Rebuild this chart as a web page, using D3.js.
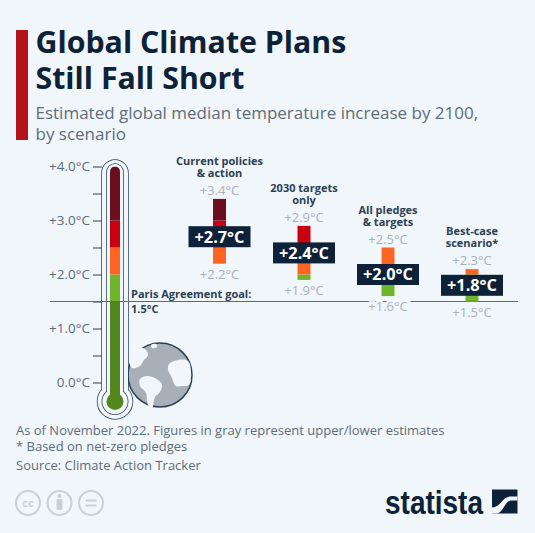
<!DOCTYPE html>
<html>
<head>
<meta charset="utf-8">
<script src="https://cdn.jsdelivr.net/npm/d3@7/dist/d3.min.js"></script>
<style type="text/css">
  body{
    margin: 0px;
    background: #f1f6fa;
  }
  svg{
    display: block;
    font-family: 'Open Sans', sans-serif;
  }
</style>
</head>
<body>
<div id="chart"></div>

<script>

var titleLines = ["Global Climate Plans", "Still Fall Short"];
var subtitleLines = ["Estimated global median temperature increase by 2100,", "by scenario"];
var footLines = ["As of November 2022. Figures in gray represent upper/lower estimates", "* Based on net-zero pledges", "Source: Climate Action Tracker"];

var scenarioNames = [["Current policies", "& action"], ["2030 targets", "only"], ["All pledges", "& targets"], ["Best-case", "scenario*"]];
var medians = [2.7, 2.4, 2.0, 1.8];
var uppers = [3.4, 2.9, 2.5, 2.3];
var lowers = [2.2, 1.9, 1.6, 1.5];
// in the picture the best-case bar stops short of its +2.3 label
var barTops = [3.4, 2.9, 2.5, 2.1];

var axisTicks = [0, 0.5, 1, 1.5, 2, 2.5, 3, 3.5, 4];
var parisGoal = 1.5;

// color bands, bottom to top. first one runs down into the bulb
var bandEdges = [-0.35, 1.5, 2, 2.5, 3, 4];
var bandColors = ["#55861e", "#6fb52c", "#ff6422", "#c8000f", "#6b0f1f"];

// white land on the little globe, relative to its center
var landShapes = [
  [[-31,-20],[-24,-27],[-15,-26],[-12,-20],[-16,-15],[-20,-9],[-28,-7]],
  [[-9,-30],[-4,-31],[-3,-28],[-8,-27]],
  [[-20,4],[-12,1],[-2,5],[2,10],[0,17],[-5,22],[-8,33],[-12,30],[-14,18],[-20,11]],
  [[9,-11],[18,-15],[28,-14],[31,-3],[29,10],[22,11],[16,11],[11,1],[8,-5]]
];

var width = 535, height = 533;
var bg = "#f1f6fa", navy = "#0d2238", outline = "#2c4053", gray = "#5f6c79", lightGray = "#a9b2ba";

var svg = d3.select("#chart").append("svg")
  .attr("width", width)
  .attr("height", height);

var y = d3.scaleLinear().domain([0, 4]).range([382.5, 166.5]);
// the four columns are not quite evenly spaced
var columnX = [219.5, 304, 388, 472];

// header
svg.append("rect").attr("x", 16).attr("y", 30).attr("width", 12).attr("height", 110).attr("fill", "#b5131a");

svg.selectAll(".title").data(titleLines).enter().append("text")
  .attr("x", 35.5)
  .attr("y", function(d,i) { return 53 + i*35.5; })
  .attr("font-size", 30.3)
  .attr("font-weight", 700)
  .attr("fill", navy)
  .text(function(d) { return d; });

svg.selectAll(".subtitle").data(subtitleLines).enter().append("text")
  .attr("x", 35.5)
  .attr("y", function(d,i) { return 119 + i*21; })
  .attr("font-size", 17)
  .attr("fill", gray)
  .text(function(d) { return d; });

// globe
var cx = 160, cy = 375;
var globe = svg.append("g").attr("transform", "translate(" + cx + "," + cy + ")");
globe.append("circle").attr("r", 32).attr("fill", "#a7b0b9").attr("stroke", outline).attr("stroke-width", 1.5);
var landLine = d3.line().curve(d3.curveCatmullRomClosed);
globe.selectAll("path").data(landShapes).enter().append("path")
  .attr("d", landLine)
  .attr("fill", bg);

// axis
var axis = d3.axisLeft(y)
  .tickValues(axisTicks)
  .tickSize(9)
  .tickPadding(3)
  .tickFormat(function(d) {
    if (d % 1 !== 0) return "";
    return (d > 0 ? "+" : "") + d.toFixed(1) + "°C";
  });

var axisG = svg.append("g").attr("transform", "translate(102,0)").call(axis);
axisG.select(".domain").remove();
axisG.selectAll("line").attr("stroke", outline).attr("stroke-width", 1);
axisG.selectAll("text").attr("font-size", 13.5).attr("font-family", "'Open Sans', sans-serif").attr("fill", gray);

// thermometer
var tubeX = 115, bulbY = y(-0.35);

function tubeShape(halfW, top, r) {
  var s = svg.append("g");
  [[outline, outline], [bg, "none"]].forEach(function(c) {
    s.append("rect")
      .attr("x", tubeX-halfW).attr("y", top)
      .attr("width", halfW*2).attr("height", bulbY-top)
      .attr("rx", halfW)
      .attr("fill", c[0]).attr("stroke", c[1]).attr("stroke-width", 1.5);
    s.append("circle")
      .attr("cx", tubeX).attr("cy", bulbY).attr("r", r)
      .attr("fill", c[0]).attr("stroke", c[1]).attr("stroke-width", 1.5);
  });
}
tubeShape(13, 160, 17.5);
tubeShape(8, 164, 12.7);

svg.append("clipPath").attr("id", "tubeClip").append("rect")
  .attr("x", tubeX-5).attr("y", y(4))
  .attr("width", 10).attr("height", bulbY-y(4))
  .attr("rx", 5);

var bands = d3.range(bandColors.length).map(function(i) {
  return {lo: bandEdges[i], hi: bandEdges[i+1], color: bandColors[i]};
});

svg.append("g").attr("clip-path", "url(#tubeClip)")
  .selectAll("rect").data(bands).enter().append("rect")
  .attr("x", tubeX-5)
  .attr("width", 10)
  .attr("y", function(d) { return y(d.hi); })
  .attr("height", function(d) { return y(d.lo)-y(d.hi); })
  .attr("fill", function(d) { return d.color; });

svg.append("circle").attr("cx", tubeX).attr("cy", bulbY).attr("r", 8.5).attr("fill", bandColors[0]);

// paris line
svg.append("line")
  .attr("x1", 50).attr("x2", 518)
  .attr("y1", y(parisGoal)).attr("y2", y(parisGoal))
  .attr("stroke", "#5d6b78").attr("stroke-width", 1);

svg.selectAll(".paris").data(["Paris Agreement goal:", "1.5°C"]).enter().append("text")
  .attr("x", 131)
  .attr("y", function(d,i) { return 297.5 + i*15.5; })
  .attr("font-size", 11)
  .attr("font-weight", 700)
  .attr("fill", outline)
  .text(function(d) { return d; });

// scenarios
function fmt(v) { return "+" + v.toFixed(1) + "°C"; }

var col = svg.selectAll(".scenario").data(medians).enter().append("g")
  .attr("class", "scenario")
  .attr("text-anchor", "middle")
  .attr("transform", function(d,i) { return "translate(" + columnX[i] + ",0)"; });

col.each(function(d,i) {
  var g = d3.select(this);

  var parts = bands.filter(function(b) { return b.hi > lowers[i] && b.lo < barTops[i]; });
  g.selectAll("rect.part").data(parts).enter().append("rect")
    .attr("class", "part")
    .attr("x", -6.5)
    .attr("width", 13)
    .attr("y", function(b) { return y(Math.min(b.hi, barTops[i])); })
    .attr("height", function(b) { return y(Math.max(b.lo, lowers[i])) - y(Math.min(b.hi, barTops[i])); })
    .attr("fill", function(b) { return b.color; });

  g.append("rect")
    .attr("x", -31).attr("y", y(d)-10.5)
    .attr("width", 62).attr("height", 21)
    .attr("fill", navy);

  g.append("text")
    .attr("y", y(d)+5.8)
    .attr("font-size", 16.3)
    .attr("font-weight", 700)
    .attr("fill", "white")
    .text(fmt(d));

  g.append("text")
    .attr("y", y(barTops[i])-4)
    .attr("font-size", 13)
    .attr("fill", lightGray)
    .text(fmt(uppers[i]));

  g.append("text")
    .attr("y", y(lowers[i])+15)
    .attr("font-size", 13)
    .attr("fill", lightGray)
    .attr("stroke", bg)
    .attr("stroke-width", 5)
    .attr("paint-order", "stroke")
    .text(fmt(lowers[i]));

  g.selectAll("text.name").data(scenarioNames[i]).enter().append("text")
    .attr("class", "name")
    .attr("y", function(t,j) { return y(barTops[i]) - 34 + j*12.3; })
    .attr("font-size", 11)
    .attr("font-weight", 700)
    .attr("fill", outline)
    .text(function(t) { return t; });
});

// footer
svg.selectAll(".foot").data(footLines).enter().append("text")
  .attr("x", 16)
  .attr("y", function(d,i) { return [435, 451, 470][i]; })
  .attr("font-size", 13)
  .attr("fill", gray)
  .text(function(d) { return d; });

// license icons
var icons = svg.append("g").attr("fill", "none").attr("stroke", "#c9d0d6").attr("stroke-width", 2);
[28, 59.5, 91].forEach(function(ix) {
  icons.append("circle").attr("cx", ix).attr("cy", 503).attr("r", 12);
});
svg.append("text").attr("x", 28).attr("y", 507).attr("text-anchor", "middle")
  .attr("font-size", 11).attr("font-weight", 700).attr("fill", "#c9d0d6").text("cc");
svg.append("circle").attr("cx", 59.5).attr("cy", 496).attr("r", 2).attr("fill", "#c9d0d6");
svg.append("rect").attr("x", 56.5).attr("y", 499).attr("width", 6).attr("height", 11).attr("rx", 1.5).attr("fill", "#c9d0d6");
svg.append("rect").attr("x", 85.5).attr("y", 499.5).attr("width", 11).attr("height", 2).attr("fill", "#c9d0d6");
svg.append("rect").attr("x", 85.5).attr("y", 504.5).attr("width", 11).attr("height", 2).attr("fill", "#c9d0d6");

// statista logo
svg.append("text")
  .attr("x", 385).attr("y", 514)
  .attr("font-family", "'Liberation Sans Narrow', 'Liberation Sans', sans-serif")
  .attr("font-size", 34)
  .attr("font-weight", 700)
  .attr("fill", navy)
  .attr("textLength", 98)
  .attr("lengthAdjust", "spacingAndGlyphs")
  .text("statista");

var logo = svg.append("g").attr("transform", "translate(492,489.5)");
logo.append("rect").attr("width", 25.5).attr("height", 24).attr("fill", navy);
logo.append("path")
  .attr("d", "M0,18 C9,18 10,7 19,7 L25.5,7 L25.5,11 L20,11 C12,11 12,24 4,24 L0,24 Z")
  .attr("fill", bg);

</script>
</body>
</html>
